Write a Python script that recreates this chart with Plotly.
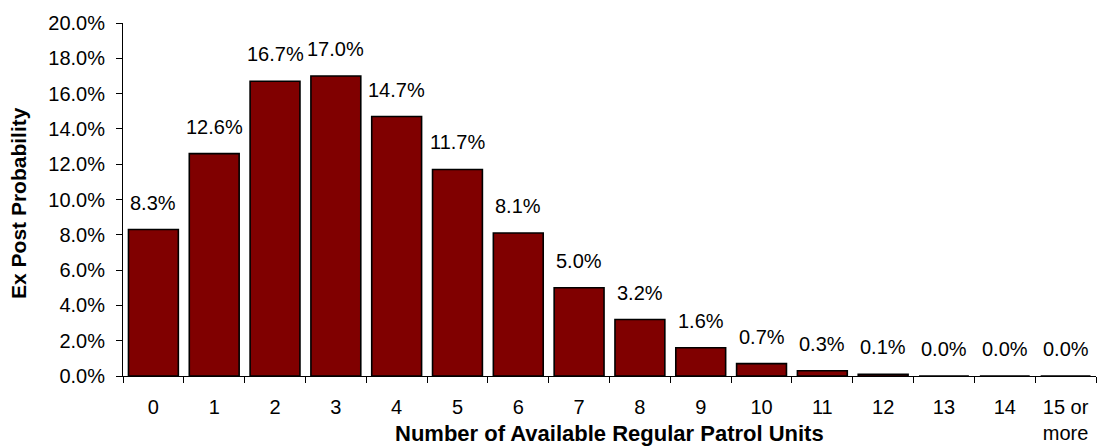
import plotly.graph_objects as go

categories = [str(i) for i in range(15)] + ["15 or<br>more"]
probabilities = [0.083, 0.126, 0.167, 0.170, 0.147, 0.117, 0.081, 0.050,
                 0.032, 0.016, 0.007, 0.003, 0.001, 0.000, 0.000, 0.000]
y_ticks = [i * 0.02 for i in range(11)]

FONT = "Arial, 'Liberation Sans', sans-serif"

fig = go.Figure()
fig.add_trace(go.Bar(
    x=categories,
    y=probabilities,
    marker=dict(color="#800000", line=dict(color="#000000", width=1.6)),
    hoverinfo="skip",
))

for c, v in zip(categories, probabilities):
    fig.add_annotation(
        x=c, y=v, xref="x", yref="y",
        text=f"{v * 100:.1f}%",
        showarrow=False, yanchor="bottom", yshift=14,
        font=dict(family=FONT, size=20, color="#000000"),
    )

# axis titles
fig.add_annotation(
    x=0.5, y=-0.163, xref="paper", yref="paper",
    text="<b>Number of Available Regular Patrol Units</b>",
    showarrow=False, xanchor="center", yanchor="middle",
    font=dict(family=FONT, size=22, color="#000000"),
)
fig.add_annotation(
    x=-0.108, y=0.49, xref="paper", yref="paper",
    text="<b>Ex Post Probability</b>", textangle=-90,
    showarrow=False, xanchor="center", yanchor="middle",
    font=dict(family=FONT, size=21, color="#000000"),
)

fig.update_layout(
    width=1097, height=448,
    margin=dict(l=123, r=1, t=23, b=72),
    paper_bgcolor="#ffffff", plot_bgcolor="#ffffff",
    bargap=0.18,
    showlegend=False,
    font=dict(family=FONT, size=20, color="#000000"),
)
fig.update_xaxes(
    type="category",
    showline=True, linecolor="#000000", linewidth=1,
    ticks="outside", ticklen=6, tickcolor="#000000", tickson="boundaries",
    showgrid=False, zeroline=False,
    tickfont=dict(family=FONT, size=20, color="#000000"),
    ticklabelstandoff=13,
)
fig.update_yaxes(
    range=[0, 0.2], tickvals=y_ticks, tickformat=".1%",
    showline=True, linecolor="#000000", linewidth=1,
    ticks="outside", ticklen=6, tickcolor="#000000",
    showgrid=False, zeroline=False,
    tickfont=dict(family=FONT, size=20, color="#000000"),
    ticklabelstandoff=7,
)

fig.write_html(
    "out.html",
    config={"displayModeBar": False},
    post_script="document.body.style.margin='0';document.body.style.overflow='hidden';",
)
